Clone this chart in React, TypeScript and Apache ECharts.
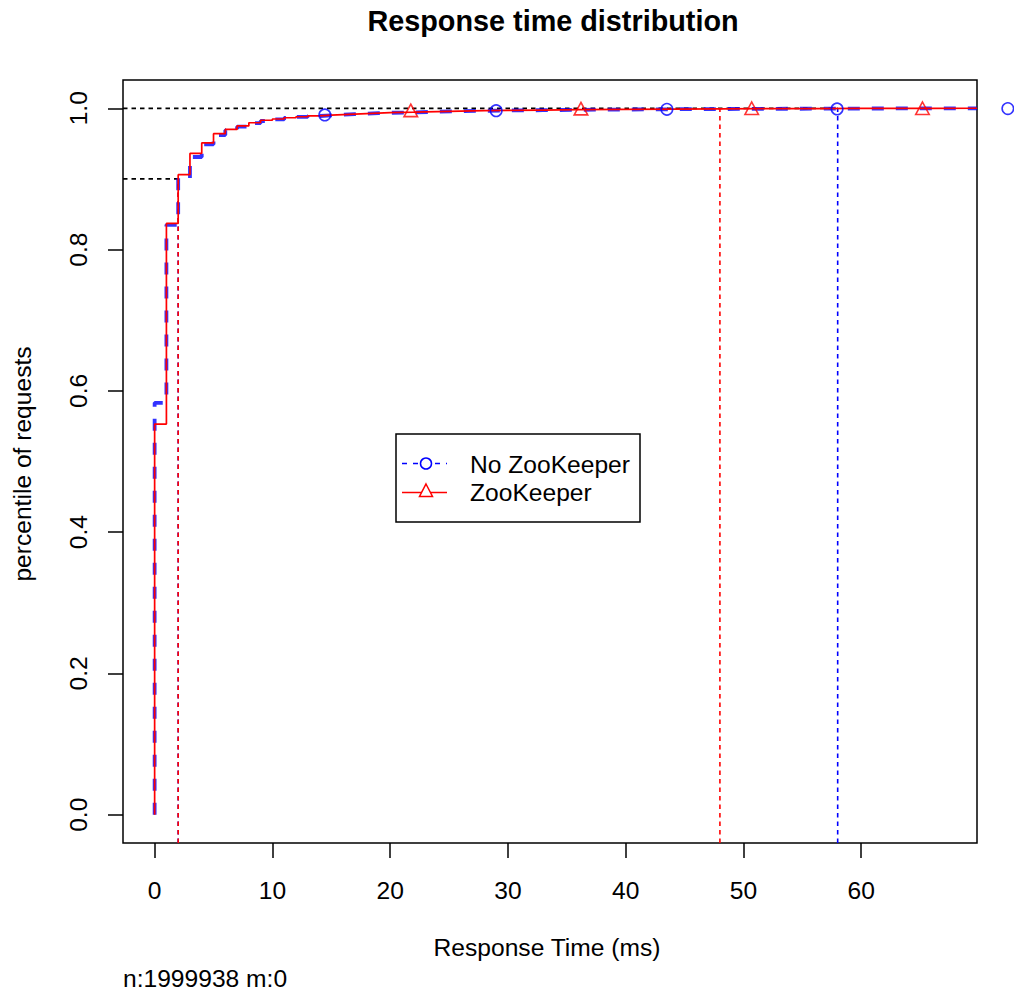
import React, { useEffect, useRef } from "react";
import * as echarts from "echarts";

// ---------- data ----------
const X_TICKS = [0, 10, 20, 30, 40, 50, 60];
const Y_TICKS = [0, 0.2, 0.4, 0.6, 0.8, 1.0];
const X_MIN = -2.686;
const X_MAX = 69.83;
const Y_MIN = -0.04;
const Y_MAX = 1.04;

// response time (ms) at which the empirical CDF steps
const stepMs = [0, 1, 2, 3, 4, 5, 6, 7, 8, 9, 10, 11, 12, 13, 14, 15, 16, 17, 18, 19, 20, 22, 24, 26, 28, 30, 33, 36, 40, 44, 48, 52, 56, 60, 66];
// cumulative fraction, No ZooKeeper
const noZkCdf = [0.583, 0.835, 0.901, 0.931, 0.949, 0.962, 0.969, 0.974, 0.979, 0.982, 0.9842, 0.9862, 0.9877, 0.989, 0.99, 0.9908, 0.9916, 0.9923, 0.993, 0.9936, 0.9942, 0.9951, 0.9958, 0.9964, 0.9969, 0.9973, 0.9978, 0.9982, 0.9986, 0.9989, 0.9992, 0.9994, 0.9996, 0.9998, 0.9999];
// cumulative fraction, ZooKeeper
const zkCdf = [0.553, 0.837, 0.906, 0.936, 0.951, 0.964, 0.97, 0.975, 0.9795, 0.983, 0.9848, 0.9866, 0.988, 0.9892, 0.9902, 0.991, 0.9918, 0.9925, 0.9932, 0.9938, 0.9944, 0.9953, 0.996, 0.9966, 0.9971, 0.9975, 0.998, 0.9984, 0.9988, 0.9991, 0.9994, 0.9996, 0.9998, 0.9999, 1.0];

// plotting symbols
const noZkMarkX = [14.45, 29.0, 43.5, 57.95, 72.45];
const noZkMarkY = [0.9905, 0.9965, 0.9985, 0.999, 0.9995];
const zkMarkX = [21.75, 36.2, 50.7, 65.2];
const zkMarkY = [0.997, 0.9995, 1.0, 1.0];

// percentile reference lines
const P90 = 0.9;
const PTOP = 0.9999;
const zkP90Ms = 2;
const noZkP90Ms = 2;
const zkTopMs = 48;
const noZkTopMs = 58;

const FOOTNOTE = "n:1999938 m:0";
const FONT = "'Liberation Sans', Arial, Helvetica, sans-serif";
const FS = 24.6;

const BLUE = "#0000FF";
const RED = "#FF0000";

function stepData(xs: number[], ys: number[]) {
  const d: number[][] = [[xs[0], 0]];
  xs.forEach((x, i) => d.push([x, ys[i]]));
  d.push([X_MAX, ys[ys.length - 1]]);
  return d;
}

function refLine(name: string, data: number[][], color: string) {
  return {
    name,
    type: "line",
    data,
    showSymbol: false,
    symbol: "none",
    silent: true,
    lineStyle: { color, width: 1.6, type: [4.5, 4] },
    z: 1,
  };
}

export default function App() {
  const ref = useRef<HTMLDivElement>(null);

  useEffect(() => {
    document.body.style.margin = "0";
    document.body.style.overflow = "hidden";
    const chart = echarts.init(ref.current!, null, { renderer: "svg" });

    const option: any = {
      animation: false,
      backgroundColor: "#ffffff",
      title: {
        text: "Response time distribution",
        left: 548,
        top: 1,
        textAlign: "center",
        textStyle: { fontFamily: FONT, fontSize: 28.8, fontWeight: "bold", color: "#000" },
      },
      grid: {
        left: 123,
        right: 37,
        top: 80,
        bottom: 150,
        show: true,
        borderColor: "#000",
        borderWidth: 1.5,
        backgroundColor: "transparent",
        containLabel: false,
      },
      xAxis: {
        type: "value",
        min: X_MIN,
        max: X_MAX,
        axisLine: { show: false, onZero: false },
        splitLine: { show: false },
        axisTick: { show: true, customValues: X_TICKS, length: 15, lineStyle: { color: "#000", width: 1.5 } },
        axisLabel: {
          customValues: X_TICKS,
          margin: 35,
          fontFamily: FONT,
          fontSize: FS,
          color: "#000",
          formatter: (v: number) => String(Math.round(v)),
        },
      },
      yAxis: {
        type: "value",
        min: Y_MIN,
        max: Y_MAX,
        axisLine: { show: false, onZero: false },
        splitLine: { show: false },
        axisTick: { show: true, customValues: Y_TICKS, length: 15, lineStyle: { color: "#000", width: 1.5 } },
        axisLabel: {
          customValues: Y_TICKS,
          rotate: 90,
          margin: 32,
          fontFamily: FONT,
          fontSize: FS,
          color: "#000",
          formatter: (v: number) => v.toFixed(1),
        },
      },
      series: [
        refLine("p90 horizontal", [[X_MIN, P90], [zkP90Ms, P90]], "#000"),
        refLine("top horizontal", [[X_MIN, PTOP], [noZkTopMs, PTOP]], "#000"),
        refLine("No ZooKeeper p90", [[noZkP90Ms, Y_MIN], [noZkP90Ms, P90]], BLUE),
        refLine("ZooKeeper p90", [[zkP90Ms, Y_MIN], [zkP90Ms, P90]], RED),
        refLine("ZooKeeper top", [[zkTopMs, Y_MIN], [zkTopMs, PTOP]], RED),
        refLine("No ZooKeeper top", [[noZkTopMs, Y_MIN], [noZkTopMs, PTOP]], BLUE),
        {
          name: "No ZooKeeper",
          type: "line",
          step: "end",
          data: stepData(stepMs, noZkCdf),
          showSymbol: false,
          symbol: "none",
          lineStyle: { color: BLUE, width: 3.8, type: [12, 12], opacity: 0.8 },
          z: 2,
        },
        {
          name: "ZooKeeper",
          type: "line",
          step: "end",
          data: stepData(stepMs, zkCdf),
          showSymbol: false,
          symbol: "none",
          lineStyle: { color: RED, width: 1.7 },
          z: 3,
        },
        {
          name: "No ZooKeeper points",
          type: "scatter",
          clip: false,
          data: noZkMarkX.map((x, i) => [x, noZkMarkY[i]]),
          symbol: "circle",
          symbolSize: 11.5,
          itemStyle: { color: "rgba(0,0,0,0)", borderColor: BLUE, borderWidth: 1.6 },
          z: 4,
        },
        {
          name: "ZooKeeper points",
          type: "scatter",
          clip: false,
          data: zkMarkX.map((x, i) => [x, zkMarkY[i]]),
          symbol: "triangle",
          symbolSize: [13.5, 12.5],
          itemStyle: { color: "rgba(0,0,0,0)", borderColor: RED, borderWidth: 1.6 },
          z: 4,
        },
      ],
      graphic: [
        // axis titles
        {
          type: "text",
          x: 547,
          y: 947.5,
          style: { text: "Response Time (ms)", font: `${FS}px ${FONT}`, fill: "#000", align: "center", verticalAlign: "middle" },
        },
        {
          type: "text",
          x: 22,
          y: 464,
          rotation: Math.PI / 2,
          style: { text: "percentile of requests", font: `${FS}px ${FONT}`, fill: "#000", align: "center", verticalAlign: "middle" },
        },
        {
          type: "text",
          x: 123,
          y: 978.5,
          style: { text: FOOTNOTE, font: `${FS}px ${FONT}`, fill: "#000", align: "left", verticalAlign: "middle" },
        },
        // legend
        {
          type: "rect",
          shape: { x: 396, y: 434, width: 244, height: 88 },
          style: { fill: "#fff", stroke: "#000", lineWidth: 1.5 },
          z: 10,
        },
        {
          type: "line",
          shape: { x1: 402, y1: 463.5, x2: 447, y2: 463.5 },
          style: { stroke: BLUE, lineWidth: 1.5, lineDash: [5, 6] },
          z: 11,
        },
        {
          type: "circle",
          shape: { cx: 426, cy: 463.5, r: 5.5 },
          style: { fill: "#fff", stroke: BLUE, lineWidth: 1.5 },
          z: 12,
        },
        {
          type: "line",
          shape: { x1: 402, y1: 492.5, x2: 447, y2: 492.5 },
          style: { stroke: RED, lineWidth: 1.5 },
          z: 11,
        },
        {
          type: "polygon",
          shape: { points: [[426, 484], [432.5, 496.5], [419.5, 496.5]] },
          style: { fill: "#fff", stroke: RED, lineWidth: 1.5 },
          z: 12,
        },
        {
          type: "text",
          x: 470,
          y: 464.4,
          style: { text: "No ZooKeeper", font: `${FS}px ${FONT}`, fill: "#000", align: "left", verticalAlign: "middle" },
          z: 12,
        },
        {
          type: "text",
          x: 470,
          y: 492.7,
          style: { text: "ZooKeeper", font: `${FS}px ${FONT}`, fill: "#000", align: "left", verticalAlign: "middle" },
          z: 12,
        },
      ],
    };

    chart.setOption(option);
    return () => chart.dispose();
  }, []);

  return <div ref={ref} style={{ width: 1014, height: 993 }} />;
}
